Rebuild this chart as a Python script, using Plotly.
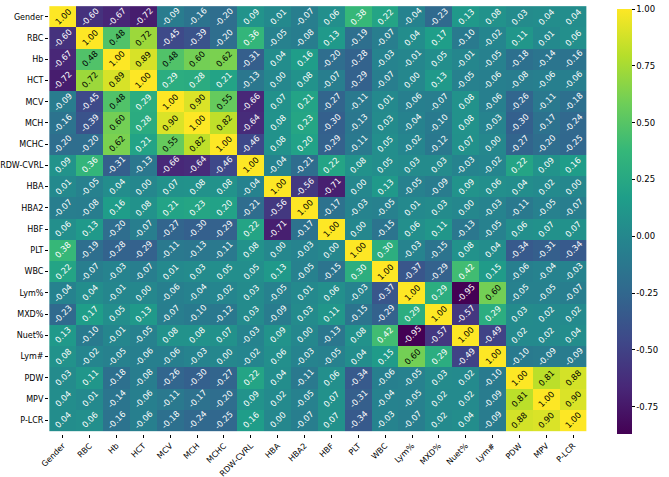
import plotly.graph_objects as go

labels = ["Gender", "RBC", "Hb", "HCT", "MCV", "MCH", "MCHC", "RDW-CVRL", "HBA", "HBA2",
          "HBF", "PLT", "WBC", "Lym%", "MXD%", "Nuet%", "Lym#", "PDW", "MPV", "P-LCR"]

r_gender = [1.00, -0.60, -0.67, -0.72, -0.09, -0.16, -0.20, 0.09, 0.01, -0.07, 0.06, 0.38, 0.22, -0.04, -0.23, 0.13, 0.08, 0.03, 0.04, 0.04]
r_rbc = [-0.60, 1.00, 0.48, 0.72, -0.45, -0.39, -0.20, 0.36, -0.05, -0.08, 0.13, -0.19, -0.07, 0.04, 0.17, -0.10, -0.02, 0.11, 0.01, 0.06]
r_hb = [-0.67, 0.48, 1.00, 0.89, 0.48, 0.60, 0.62, -0.31, 0.04, 0.16, -0.20, -0.28, -0.03, -0.01, 0.05, -0.01, -0.05, -0.18, -0.14, -0.16]
r_hct = [-0.72, 0.72, 0.89, 1.00, 0.29, 0.28, 0.21, -0.13, 0.00, 0.08, -0.07, -0.29, -0.07, 0.00, 0.13, -0.05, -0.06, -0.08, -0.06, -0.06]
r_mcv = [-0.09, -0.45, 0.48, 0.29, 1.00, 0.90, 0.55, -0.66, 0.07, 0.21, -0.27, -0.11, 0.01, -0.06, -0.07, 0.08, -0.06, -0.26, -0.11, -0.18]
r_mch = [-0.16, -0.39, 0.60, 0.28, 0.90, 1.00, 0.82, -0.64, 0.08, 0.23, -0.30, -0.13, 0.03, -0.04, -0.10, 0.08, -0.03, -0.30, -0.17, -0.24]
r_mchc = [-0.20, -0.20, 0.62, 0.21, 0.55, 0.82, 1.00, -0.46, 0.08, 0.20, -0.29, -0.11, 0.05, -0.02, -0.12, 0.07, 0.00, -0.27, -0.20, -0.25]
r_rdw = [0.09, 0.36, -0.31, -0.13, -0.66, -0.64, -0.46, 1.00, -0.04, -0.21, 0.22, 0.08, 0.05, 0.03, 0.03, -0.03, -0.02, 0.22, 0.09, 0.16]
r_hba = [0.01, -0.05, 0.04, 0.00, 0.07, 0.08, 0.08, -0.04, 1.00, -0.56, -0.71, 0.00, 0.13, -0.05, -0.09, 0.09, 0.06, 0.04, 0.02, 0.00]
r_hba2 = [-0.07, -0.08, 0.16, 0.08, 0.21, 0.23, 0.20, -0.21, -0.56, 1.00, -0.17, -0.03, -0.05, 0.01, 0.03, 0.00, -0.03, -0.11, -0.05, -0.07]
r_hbf = [0.06, 0.13, -0.20, -0.07, -0.27, -0.30, -0.29, 0.22, -0.71, -0.17, 1.00, 0.00, -0.15, 0.06, 0.11, -0.13, -0.05, 0.06, 0.07, 0.07]
r_plt = [0.38, -0.19, -0.28, -0.29, -0.11, -0.13, -0.11, 0.08, 0.00, -0.03, 0.00, 1.00, 0.30, -0.03, -0.15, 0.08, 0.04, -0.34, -0.31, -0.34]
r_wbc = [0.22, -0.07, -0.03, -0.07, 0.01, 0.03, 0.05, 0.05, 0.13, -0.05, -0.15, 0.30, 1.00, -0.37, -0.29, 0.42, 0.15, -0.06, -0.04, -0.03]
r_lymp = [-0.04, 0.04, -0.01, 0.00, -0.06, -0.04, -0.02, 0.03, -0.05, 0.01, 0.06, -0.03, -0.37, 1.00, 0.29, -0.95, 0.60, -0.05, -0.05, -0.07]
r_mxd = [-0.23, 0.17, 0.05, 0.13, -0.07, -0.10, -0.12, 0.03, -0.09, 0.03, 0.11, -0.15, -0.29, 0.29, 1.00, -0.57, 0.29, 0.03, 0.02, 0.02]
r_nuet = [0.13, -0.10, -0.01, -0.05, 0.08, 0.08, 0.07, -0.03, 0.09, 0.00, -0.13, 0.08, 0.42, -0.95, -0.57, 1.00, -0.49, 0.02, 0.02, 0.04]
r_lymn = [0.08, -0.02, -0.05, -0.06, -0.06, -0.03, 0.00, -0.02, 0.06, -0.03, -0.05, 0.04, 0.15, 0.60, 0.29, -0.49, 1.00, -0.10, -0.09, -0.09]
r_pdw = [0.03, 0.11, -0.18, -0.08, -0.26, -0.30, -0.27, 0.22, 0.04, -0.11, 0.06, -0.34, -0.06, -0.05, 0.03, 0.02, -0.10, 1.00, 0.81, 0.88]
r_mpv = [0.04, 0.01, -0.14, -0.06, -0.11, -0.17, -0.20, 0.09, 0.02, -0.05, 0.07, -0.31, -0.04, -0.05, 0.02, 0.02, -0.09, 0.81, 1.00, 0.90]
r_plcr = [0.04, 0.06, -0.16, -0.06, -0.18, -0.24, -0.25, 0.16, 0.00, -0.07, 0.07, -0.34, -0.03, -0.07, 0.02, 0.04, -0.09, 0.88, 0.90, 1.00]

z = [r_gender, r_rbc, r_hb, r_hct, r_mcv, r_mch, r_mchc, r_rdw, r_hba, r_hba2,
     r_hbf, r_plt, r_wbc, r_lymp, r_mxd, r_nuet, r_lymn, r_pdw, r_mpv, r_plcr]

colorbar_ticks = [-0.75, -0.50, -0.25, 0.00, 0.25, 0.50, 0.75, 1.00]
color_min, color_max = -0.87, 1.00

FONT = "DejaVu Sans"

fig = go.Figure(go.Heatmap(
    z=z, x=labels, y=labels,
    colorscale="Viridis",
    zmin=color_min, zmax=color_max,
    xgap=0, ygap=0,
    hoverinfo="skip",
    colorbar=dict(
        x=1.056, xanchor="left", y=0, yanchor="bottom", len=0.986, lenmode="fraction",
        thickness=15, outlinewidth=0, ypad=0, xpad=0,
        tickvals=colorbar_ticks, ticktext=[f"{v:.2f}" for v in colorbar_ticks],
        ticks="outside", ticklen=3, tickcolor="black",
        ticklabeloverflow="allow",
        tickfont=dict(family=FONT, size=8.5, color="black"),
    ),
))

annotations = []
for i, row in enumerate(z):
    for j, v in enumerate(row):
        annotations.append(dict(
            x=labels[j], y=labels[i], xref="x", yref="y",
            text=f"{v:.2f}", showarrow=False, textangle=-45,
            font=dict(family=FONT, size=8.3, color="black" if v >= 0.45 else "white"),
        ))

fig.update_layout(
    width=669, height=477,
    margin=dict(l=49, r=82, t=3, b=43, autoexpand=False),
    paper_bgcolor="white", plot_bgcolor="white",
    annotations=annotations,
    font=dict(family=FONT, size=8, color="black"),
    xaxis=dict(tickangle=-45, ticks="outside", ticklen=3, tickcolor="black",
               showgrid=False, zeroline=False, tickfont=dict(family=FONT, size=8)),
    yaxis=dict(autorange="reversed", ticks="outside", ticklen=3, tickcolor="black",
               showgrid=False, zeroline=False, tickfont=dict(family=FONT, size=8)),
)

fig.write_html("out.html")
